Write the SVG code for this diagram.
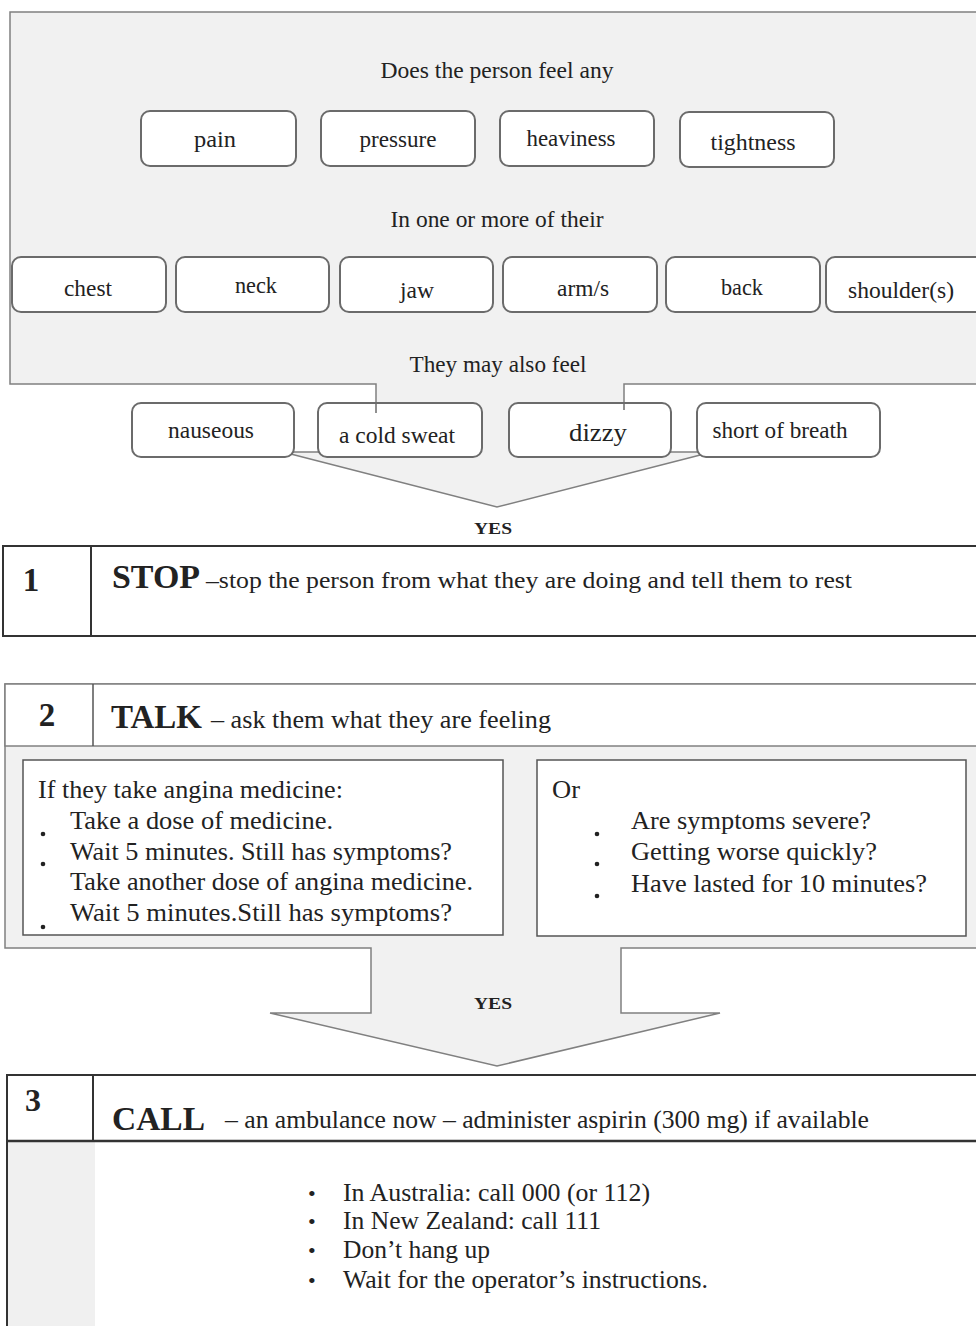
<svg xmlns="http://www.w3.org/2000/svg" width="976" height="1326" viewBox="0 0 976 1326">
<style>
text{font-family:"Liberation Serif","Times New Roman",serif;fill:#222}
.t{font-size:23px}
.s{font-size:25px}
.bu{font-size:22px}
.bold{font-weight:bold}
.box{fill:#fff;stroke:#6b6b6b;stroke-width:2}
.panel{fill:#f1f1f1;stroke:#808080;stroke-width:1.5}
.line{stroke:#6b6b6b;stroke-width:1.5;fill:none}
.ibox{fill:#fff;stroke:#555;stroke-width:1.5}
</style>
<g id="connectors">
<path id="top-arrow" class="panel" d="M10,12 H980 V384 H624 V452 H712 L497,507 L283,452 H376 V384 H10 Z"/>
<path id="talk-arrow" class="panel" d="M5,684 H980 V948 H621 V1013 H720 L497,1066 L270,1013 H371 V948 H5 Z"/>
</g>
<g id="top-texts">
<text class="t" x="497" y="78" text-anchor="middle" textLength="233" lengthAdjust="spacingAndGlyphs">Does the person feel any</text>
<text class="t" x="497" y="227" text-anchor="middle" textLength="213" lengthAdjust="spacingAndGlyphs">In one or more of their</text>
<text class="t" x="498" y="372" text-anchor="middle" textLength="177" lengthAdjust="spacingAndGlyphs">They may also feel</text>
</g>
<g id="n-pain"><rect class="box" x="141" y="111" width="155" height="55" rx="9"/><text class="t" x="215" y="147" text-anchor="middle" textLength="42" lengthAdjust="spacingAndGlyphs">pain</text></g>
<g id="n-pressure"><rect class="box" x="321" y="111" width="154" height="55" rx="9"/><text class="t" x="398" y="147" text-anchor="middle" textLength="77" lengthAdjust="spacingAndGlyphs">pressure</text></g>
<g id="n-heaviness"><rect class="box" x="500" y="111" width="154" height="55" rx="9"/><text class="t" x="571" y="146" text-anchor="middle" textLength="89" lengthAdjust="spacingAndGlyphs">heaviness</text></g>
<g id="n-tightness"><rect class="box" x="680" y="112" width="154" height="55" rx="9"/><text class="t" x="753" y="150" text-anchor="middle" textLength="85" lengthAdjust="spacingAndGlyphs">tightness</text></g>
<g id="n-chest"><rect class="box" x="12" y="257" width="154" height="55" rx="9"/><text class="t" x="88" y="296" text-anchor="middle" textLength="48" lengthAdjust="spacingAndGlyphs">chest</text></g>
<g id="n-neck"><rect class="box" x="176" y="257" width="153" height="55" rx="9"/><text class="t" x="256" y="293" text-anchor="middle" textLength="42" lengthAdjust="spacingAndGlyphs">neck</text></g>
<g id="n-jaw"><rect class="box" x="340" y="257" width="153" height="55" rx="9"/><text class="t" x="417" y="298" text-anchor="middle" textLength="34" lengthAdjust="spacingAndGlyphs">jaw</text></g>
<g id="n-arms"><rect class="box" x="503" y="257" width="154" height="55" rx="9"/><text class="t" x="583" y="296" text-anchor="middle" textLength="52" lengthAdjust="spacingAndGlyphs">arm/s</text></g>
<g id="n-back"><rect class="box" x="666" y="257" width="154" height="55" rx="9"/><text class="t" x="742" y="295" text-anchor="middle" textLength="42" lengthAdjust="spacingAndGlyphs">back</text></g>
<g id="n-shoulders"><rect class="box" x="826" y="257" width="160" height="55" rx="9"/><text class="t" x="901" y="298" text-anchor="middle" textLength="106" lengthAdjust="spacingAndGlyphs">shoulder(s)</text></g>
<g id="n-nauseous"><rect class="box" x="132" y="403" width="162" height="54" rx="9"/><text class="t" x="211" y="438" text-anchor="middle" textLength="86" lengthAdjust="spacingAndGlyphs">nauseous</text></g>
<g id="n-coldsweat"><rect class="box" x="318" y="403" width="164" height="54" rx="9"/><text class="t" x="397" y="443" text-anchor="middle" textLength="116" lengthAdjust="spacingAndGlyphs">a cold sweat</text></g>
<g id="n-dizzy"><rect class="box" x="509" y="403" width="162" height="54" rx="9"/><text x="598" y="441" text-anchor="middle" font-size="26" textLength="58" lengthAdjust="spacingAndGlyphs">dizzy</text></g>
<g id="n-breath"><rect class="box" x="697" y="403" width="183" height="54" rx="9"/><text class="t" x="780" y="438" text-anchor="middle" textLength="135" lengthAdjust="spacingAndGlyphs">short of breath</text></g>
<g id="stem-marks">
<line class="line" x1="376" y1="402" x2="376" y2="413"/>
<line class="line" x1="624" y1="402" x2="624" y2="410"/>
</g>
<text class="bold" x="493" y="534" text-anchor="middle" font-size="16" textLength="38" lengthAdjust="spacingAndGlyphs">YES</text>
<g id="step1">
<rect x="3" y="546" width="980" height="90" fill="#fff" stroke="#333" stroke-width="2"/>
<line x1="91" y1="546" x2="91" y2="636" stroke="#333" stroke-width="2"/>
<text class="bold" x="31" y="591" text-anchor="middle" font-size="33">1</text>
<text x="112" y="588" font-size="33" font-weight="bold" textLength="88" lengthAdjust="spacingAndGlyphs">STOP</text>
<text x="206" y="588" font-size="24" textLength="646" lengthAdjust="spacingAndGlyphs">–stop the person from what they are doing and tell them to rest</text>
</g>
<g id="step2">
<rect x="5" y="684" width="975" height="62" fill="#fff" stroke="#808080" stroke-width="1.5"/>
<line x1="93" y1="684" x2="93" y2="746" stroke="#555" stroke-width="1.5"/>
<text class="bold" x="47" y="726" text-anchor="middle" font-size="33">2</text>
<text x="111" y="728" font-size="33" font-weight="bold" textLength="91" lengthAdjust="spacingAndGlyphs">TALK</text>
<text class="s" x="211" y="728" textLength="340" lengthAdjust="spacingAndGlyphs">– ask them what they are feeling</text>
</g>
<g id="talk-left">
<rect class="ibox" x="23" y="760" width="480" height="175"/>
<text class="s" x="38" y="798" textLength="305" lengthAdjust="spacingAndGlyphs">If they take angina medicine:</text>
<text class="s" x="70" y="829" textLength="263" lengthAdjust="spacingAndGlyphs">Take a dose of medicine.</text>
<text class="s" x="70" y="860" textLength="382" lengthAdjust="spacingAndGlyphs">Wait 5 minutes. Still has symptoms?</text>
<text class="s" x="70" y="890" textLength="403" lengthAdjust="spacingAndGlyphs">Take another dose of angina medicine.</text>
<text class="s" x="70" y="921" textLength="382" lengthAdjust="spacingAndGlyphs">Wait 5 minutes.Still has symptoms?</text>
<circle cx="43" cy="834" r="2.3" fill="#222"/>
<circle cx="43" cy="864" r="2.3" fill="#222"/>
<circle cx="43" cy="927" r="2.3" fill="#222"/>
</g>
<g id="talk-right">
<rect class="ibox" x="537" y="760" width="429" height="176"/>
<text class="s" x="552" y="798" textLength="28" lengthAdjust="spacingAndGlyphs">Or</text>
<text class="s" x="631" y="829" textLength="240" lengthAdjust="spacingAndGlyphs">Are symptoms severe?</text>
<text class="s" x="631" y="860" textLength="246" lengthAdjust="spacingAndGlyphs">Getting worse quickly?</text>
<text class="s" x="631" y="892" textLength="296" lengthAdjust="spacingAndGlyphs">Have lasted for 10 minutes?</text>
<circle cx="597" cy="834" r="2.3" fill="#222"/>
<circle cx="597" cy="864" r="2.3" fill="#222"/>
<circle cx="597" cy="896" r="2.3" fill="#222"/>
</g>
<text class="bold" x="493" y="1009" text-anchor="middle" font-size="16" textLength="38" lengthAdjust="spacingAndGlyphs">YES</text>
<g id="step3">
<rect x="7" y="1075" width="980" height="260" fill="#fff" stroke="#333" stroke-width="2"/>
<rect x="8" y="1142" width="87" height="190" fill="#f0f0f0"/>
<line x1="7" y1="1141" x2="980" y2="1141" stroke="#333" stroke-width="2.5"/>
<line x1="93" y1="1075" x2="93" y2="1141" stroke="#333" stroke-width="2"/>
<text class="bold" x="33" y="1111" text-anchor="middle" font-size="32">3</text>
<text x="112" y="1130" font-size="34" font-weight="bold" textLength="93" lengthAdjust="spacingAndGlyphs">CALL</text>
<text class="s" x="225" y="1128" textLength="644" lengthAdjust="spacingAndGlyphs">– an ambulance now – administer aspirin (300 mg) if available</text>
<text class="bu" x="308" y="1201">•</text><text class="s" x="343" y="1201" textLength="307" lengthAdjust="spacingAndGlyphs">In Australia: call 000 (or 112)</text>
<text class="bu" x="308" y="1229">•</text><text class="s" x="343" y="1229" textLength="258" lengthAdjust="spacingAndGlyphs">In New Zealand: call 111</text>
<text class="bu" x="308" y="1258">•</text><text class="s" x="343" y="1258" textLength="147" lengthAdjust="spacingAndGlyphs">Don’t hang up</text>
<text class="bu" x="308" y="1288">•</text><text class="s" x="343" y="1288" textLength="365" lengthAdjust="spacingAndGlyphs">Wait for the operator’s instructions.</text>
</g>
</svg>
